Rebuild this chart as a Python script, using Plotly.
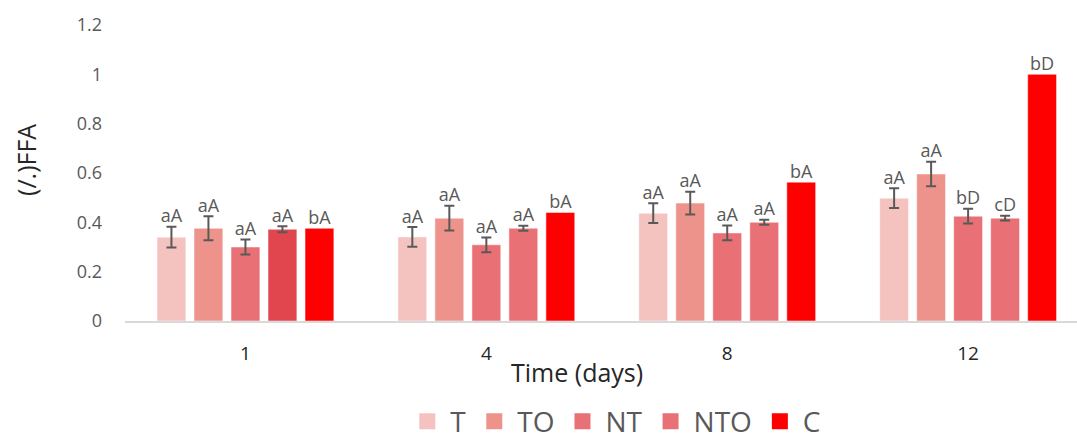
import plotly.graph_objects as go

days = ["1", "4", "8", "12"]
series = ["T", "TO", "NT", "NTO", "C"]
values = {
    "T":   [0.34, 0.341, 0.437, 0.498],
    "TO":  [0.376, 0.417, 0.478, 0.596],
    "NT":  [0.30, 0.309, 0.357, 0.425],
    "NTO": [0.372, 0.376, 0.40, 0.417],
    "C":   [0.376, 0.44, 0.563, 1.0],
}
errors = {
    "T":   [0.042, 0.04, 0.04, 0.04],
    "TO":  [0.049, 0.05, 0.046, 0.05],
    "NT":  [0.03, 0.03, 0.03, 0.03],
    "NTO": [0.012, 0.01, 0.01, 0.01],
    "C":   [0, 0, 0, 0],
}
labels = {
    "T":   ["aA", "aA", "aA", "aA"],
    "TO":  ["aA", "aA", "aA", "aA"],
    "NT":  ["aA", "aA", "aA", "bD"],
    "NTO": ["aA", "aA", "aA", "cD"],
    "C":   ["bA", "bA", "bA", "bD"],
}
colors = {
    "T": "#F4C3C0",
    "TO": "#EE938B",
    "NT": "#E97075",
    "NTO": "#E97075",
    "C": "#FF0000",
}
bar_colors = {
    "T": [colors["T"]] * 4,
    "TO": [colors["TO"]] * 4,
    "NT": [colors["NT"]] * 4,
    "NTO": ["#E1464E", colors["NTO"], colors["NTO"], colors["NTO"]],
    "C": [colors["C"]] * 4,
}

FONT = "Open Sans, Liberation Sans, sans-serif"
fig = go.Figure()

for s in series:
    has_err = any(e > 0 for e in errors[s])
    fig.add_trace(go.Bar(
        x=days, y=values[s], name=s, offsetgroup=s, showlegend=False,
        marker=dict(color=bar_colors[s], line=dict(color="rgba(255,255,255,0.5)", width=1)),
        error_y=dict(type="data", array=errors[s], visible=has_err,
                     color="#595959", thickness=2, width=5),
    ))

for s in series:
    tops = [v + e for v, e in zip(values[s], errors[s])]
    fig.add_trace(go.Scatter(
        x=days, y=tops, mode="text", text=labels[s], textposition="top center",
        textfont=dict(family=FONT, size=18, color="#595959"),
        offsetgroup=s, showlegend=False, hoverinfo="skip", cliponaxis=False,
    ))

for s in series:
    fig.add_trace(go.Scatter(
        x=[None], y=[None], mode="markers", name=s, offsetgroup=s,
        marker=dict(symbol="square", size=18, color=colors[s]),
    ))

fig.update_layout(
    width=1077, height=443,
    margin=dict(l=125, r=0, t=25, b=122, autoexpand=False),
    paper_bgcolor="white", plot_bgcolor="white",
    barmode="group", bargap=0.232, bargroupgap=0.22,
    scattermode="group", scattergap=0.232,
    font=dict(family=FONT, color="#595959"),
    showlegend=True,
    legend=dict(orientation="h", x=0.515, xanchor="center", y=-0.34, yanchor="middle",
                font=dict(family=FONT, size=28, color="#595959"),
                itemwidth=36, tracegroupgap=0),
    xaxis=dict(type="category", range=[-0.5, 3.452], showgrid=False,
               showline=True, linecolor="#D9D9D9", linewidth=1.5,
               ticklabelstandoff=14, automargin=False,
               tickfont=dict(family=FONT, size=19, color="#262626"), ticks=""),
    yaxis=dict(range=[0, 1.2], dtick=0.2, showgrid=False, zeroline=False,
               showline=False, ticklabelstandoff=22, automargin=False,
               tickfont=dict(family=FONT, size=18, color="#595959"),
               tickformat="~g"),
    annotations=[
        dict(text="Time (days)", xref="paper", yref="paper", x=0.475, y=-0.172,
             xanchor="center", yanchor="middle", showarrow=False,
             font=dict(family=FONT, size=25, color="#262626")),
        dict(text="(/.)FFA", xref="paper", yref="paper", x=-0.104, y=0.544,
             xanchor="center", yanchor="middle", showarrow=False, textangle=-90,
             font=dict(family=FONT, size=25, color="#262626")),
    ],
)

fig.write_html("out.html", config={"displayModeBar": False},
               post_script="document.body.style.margin='0';document.body.style.overflow='hidden';")
